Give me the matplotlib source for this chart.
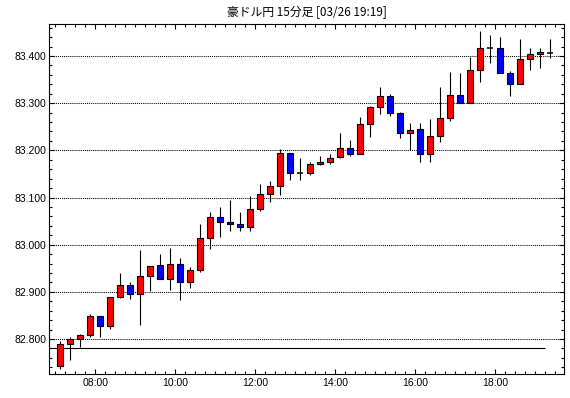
import matplotlib
matplotlib.use("Agg")
import matplotlib.pyplot as plt
from matplotlib.ticker import MultipleLocator, FuncFormatter
import numpy as np

# ---- data ----
title = "豪ドル円 15分足 [03/26 19:19]"
first_bar_hour = 7.0          # first 15-minute bar starts at 07:00
bar_minutes = 15
opens  = [82.742, 82.789, 82.800, 82.808, 82.8485, 82.827, 82.889, 82.914, 82.895, 82.933,
          82.957, 82.927, 82.959, 82.921, 82.946, 83.015, 83.058, 83.048, 83.043, 83.037,
          83.075, 83.107, 83.124, 83.194, 83.151, 83.151, 83.171, 83.175, 83.185, 83.204,
          83.193, 83.255, 83.291, 83.315, 83.279, 83.236, 83.245, 83.193, 83.230, 83.268,
          83.317, 83.300, 83.370, 83.416, 83.416, 83.363, 83.340, 83.393, 83.404, 83.407]
highs  = [82.795, 82.804, 82.810, 82.853, 82.849, 82.890, 82.940, 82.921, 82.989, 82.955,
          82.981, 82.993, 82.972, 82.952, 83.044, 83.0695, 83.080, 83.095, 83.0695, 83.103,
          83.128, 83.135, 83.202, 83.195, 83.184, 83.175, 83.188, 83.192, 83.2375, 83.222,
          83.271, 83.294, 83.334, 83.319, 83.281, 83.258, 83.258, 83.2665, 83.334, 83.366,
          83.364, 83.398, 83.453, 83.4445, 83.440, 83.368, 83.436, 83.416, 83.416, 83.436]
lows   = [82.7375, 82.7545, 82.784, 82.804, 82.805, 82.822, 82.888, 82.884, 82.829, 82.9015,
          82.927, 82.904, 82.883, 82.908, 82.943, 82.990, 83.017, 83.030, 83.030, 83.028,
          83.0706, 83.091, 83.106, 83.138, 83.138, 83.1485, 83.168, 83.171, 83.183, 83.187,
          83.193, 83.229, 83.276, 83.2735, 83.227, 83.201, 83.175, 83.176, 83.218, 83.263,
          83.300, 83.300, 83.344, 83.386, 83.363, 83.316, 83.340, 83.370, 83.375, 83.396]
closes = [82.789, 82.800, 82.808, 82.8485, 82.827, 82.889, 82.914, 82.895, 82.933, 82.954,
          82.927, 82.959, 82.921, 82.946, 83.014, 83.058, 83.048, 83.043, 83.037, 83.075,
          83.107, 83.124, 83.194, 83.151, 83.151, 83.171, 83.175, 83.183, 83.204, 83.193,
          83.255, 83.291, 83.315, 83.279, 83.236, 83.243, 83.193, 83.230, 83.268, 83.317,
          83.300, 83.370, 83.416, 83.416, 83.363, 83.340, 83.393, 83.404, 83.408, 83.407]
ref_level = 82.781
ref_end_hour = 19.25
x_tick_hours = [8, 10, 12, 14, 16, 18]
x_tick_labels = ["08:00", "10:00", "12:00", "14:00", "16:00", "18:00"]

# ---- figure ----
W, H = 570, 398
fig = plt.figure(figsize=(W / 100, H / 100), dpi=100)
left, right, top, bottom = 49.3, 564.0, 24.3, 374.3
ax = fig.add_axes([left / W, 1 - bottom / H, (right - left) / W, (bottom - top) / H])

n = len(opens)
step = bar_minutes / 60.0
xs = first_bar_hour + step * np.arange(n) + step / 2
body_w = 0.15

o = np.array(opens); c = np.array(closes); h = np.array(highs); l = np.array(lows)
ax.vlines(xs, l, h, color="black", linewidth=0.8, zorder=2)
up = c > o
down = c < o
doji = c == o
ax.bar(xs[up], (c - o)[up], bottom=o[up], width=body_w, color="#ff0000",
       edgecolor="black", linewidth=0.8, zorder=3)
ax.bar(xs[down], (c - o)[down], bottom=o[down], width=body_w, color="#0000ff",
       edgecolor="black", linewidth=0.8, zorder=3)
ax.hlines(o[doji], xs[doji] - body_w / 2, xs[doji] + body_w / 2, color="black",
          linewidth=1.1, zorder=3)

xmin = 8 - (95.3 - left) / 40.0
xmax = 8 + (right - 95.3) / 40.0
ax.hlines(ref_level, xmin, ref_end_hour, color="black", linewidth=0.8, zorder=2)

ax.set_xlim(xmin, xmax)
ax.set_ylim(83.4 - (bottom - 56) / 471.7, 83.4 + (56 - top) / 471.7)

ax.yaxis.set_major_locator(MultipleLocator(0.1))
ax.yaxis.set_minor_locator(MultipleLocator(0.02))
ax.yaxis.set_major_formatter(FuncFormatter(lambda v, p: f"{v:.3f}"))
ax.set_xticks(x_tick_hours)
ax.set_xticklabels(x_tick_labels)
ax.xaxis.set_minor_locator(MultipleLocator(0.25))

ax.grid(axis="y", which="major", color="black", linestyle=(0, (1, 1)), linewidth=0.75)
ax.set_axisbelow(True)

for s in ax.spines.values():
    s.set_linewidth(0.8)
    s.set_color("black")

tick_font = dict(family=["Liberation Sans", "DejaVu Sans"], size=7.5)
ax.tick_params(axis="both", which="both", direction="in", top=True, right=True,
               colors="black", width=0.8)
ax.tick_params(axis="both", which="major", length=3.5, pad=2)
ax.tick_params(axis="both", which="minor", length=2)
ax.tick_params(axis="x", which="major", pad=3)
for lab in ax.get_xticklabels() + ax.get_yticklabels():
    lab.set_fontfamily(tick_font["family"])
    lab.set_fontsize(tick_font["size"])

fig.text((left + right) / 2 / W, 1 - 12.5 / H, title, ha="center", va="center",
         fontsize=8.5, family=["Noto Sans CJK JP", "DejaVu Sans"])

fig.savefig("out.png", dpi=100, facecolor="white")
